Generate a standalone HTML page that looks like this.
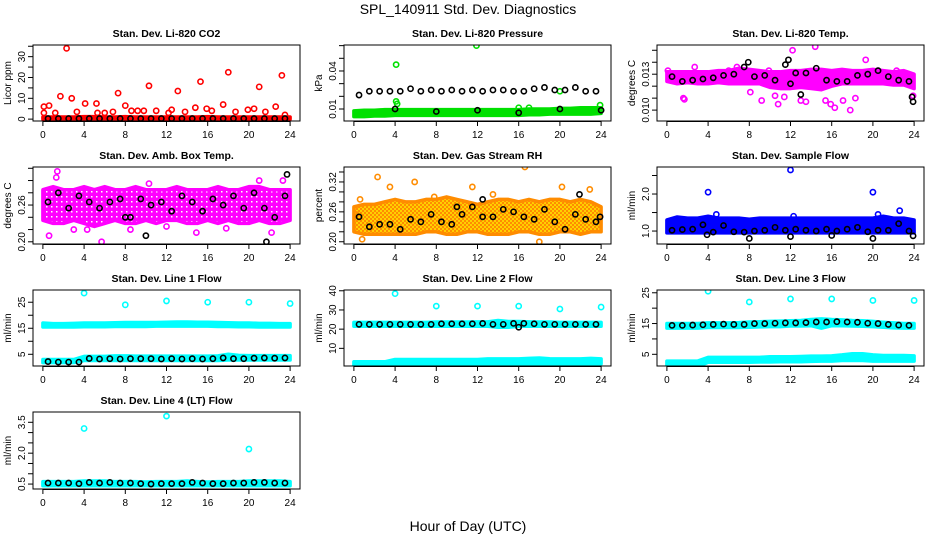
<!DOCTYPE html>
<html><head><meta charset="utf-8">
<style>
html,body{margin:0;padding:0;background:#fff;}
svg{display:block;font-family:"Liberation Sans",sans-serif;}
</style></head>
<body>
<svg id="chart" width="936" height="540" viewBox="0 0 936 540">
<defs>
<pattern id="pat-rh" width="4" height="4" patternUnits="userSpaceOnUse"><rect width="4" height="4" fill="#ffd000"/><rect width="2" height="2" fill="#ff8c00"/><rect x="2" y="2" width="2" height="2" fill="#ff8c00"/></pattern>
<pattern id="pat-mag" width="5" height="5" patternUnits="userSpaceOnUse"><rect width="5" height="5" fill="#ff00ff"/><rect x="1" y="1" width="1.5" height="1.5" fill="#fff"/></pattern>
</defs>
<text x="468" y="14" text-anchor="middle" font-size="14">SPL_140911  Std. Dev. Diagnostics</text>
<text x="468" y="531" text-anchor="middle" font-size="14">Hour of Day (UTC)</text>
</svg>
<script>
// ---- shared data ----
const bandHours = [0,1,2,3,4,5,6,7,8,9,10,11,12,13,14,15,16,17,18,19,20,21,22,23,24];
const blackHours = [0.5,1.5,2.5,3.5,4.5,5.5,6.5,7.5,8.5,9.5,10.5,11.5,12.5,13.5,14.5,15.5,16.5,17.5,18.5,19.5,20.5,21.5,22.5,23.5];
const xTicks = [0,4,8,12,16,20,24];

// CO2
const co2Lo = [0,0,0,0,0,0,0,0,0,0,0,0,0,0,0,0,0,0,0,0,0,0,0,0,0];
const co2Hi = [1,1,1,1,1.2,1.2,1,1,1.2,1,1,1,1,1,1,1,1.2,1,1,1,1,1,1,1,1];
const co2OutH = [0.1,0.6,0.1,1.2,1.7,2.3,2.8,3.3,4.1,5.2,5.3,6,6.8,7.3,8,8.6,9.2,9.8,10.3,11,12.2,12.5,13.1,13.8,14.8,15.3,15.9,16.4,17.5,18,18.7,19.9,20.5,21,21.6,22.6,23.2,23.5];
const co2OutV = [6,6.5,3,3,11,34,10,3.5,7.5,7.5,3,3,3.5,12.5,6.5,4,4,4,16,4,3,4.5,13.5,3.5,5.5,18,5,4,7,22.5,3.5,4.5,5,15.5,3.5,6,21,2];
const co2Black = [0.3,0.3,0.3,0.3,0.3,0.3,0.3,0.3,0.3,0.3,0.3,0.3,0.3,0.3,0.3,0.3,0.3,0.3,0.3,0.3,0.3,0.3,0.3,0.3];
const co2ExH = [], co2ExV = [];

// Pressure
const presLo = [0.004,0.004,0.0045,0.0045,0.005,0.005,0.005,0.005,0.005,0.005,0.005,0.005,0.005,0.005,0.005,0.005,0.005,0.0055,0.0055,0.006,0.006,0.006,0.006,0.006,0.0065];
const presHi = [0.0085,0.009,0.009,0.0095,0.0095,0.0095,0.0095,0.0095,0.0095,0.0095,0.0095,0.0095,0.0095,0.0095,0.0095,0.0095,0.0095,0.01,0.01,0.01,0.0105,0.0105,0.011,0.011,0.011];
const presOutH = [4.1,4.1,4.2,11.9,20,23.9,16,17];
const presOutV = [0.045,0.016,0.014,0.060,0.024,0.013,0.011,0.011];
const presBlack = [0.021,0.024,0.024,0.024,0.024,0.026,0.024,0.025,0.024,0.025,0.024,0.025,0.024,0.025,0.025,0.024,0.024,0.026,0.027,0.025,0.025,0.027,0.024,0.024];
const presExH = [4,8,12,16,20,24];
const presExV = [0.010,0.008,0.009,0.007,0.010,0.009];

// Li-820 temp
const tempLo = [0.0124,0.0122,0.0123,0.0122,0.0122,0.0123,0.0122,0.0122,0.0122,0.0122,0.0119,0.0118,0.0118,0.0119,0.0118,0.0117,0.0120,0.0122,0.0122,0.0122,0.0122,0.0122,0.0121,0.0121,0.0118];
const tempHi = [0.0132,0.0132,0.0132,0.0132,0.0132,0.0133,0.0133,0.0135,0.0134,0.0133,0.0132,0.0132,0.0133,0.0133,0.0134,0.0134,0.0133,0.0134,0.0133,0.0133,0.0134,0.0133,0.0132,0.0133,0.0130];
const tempOutH = [0.1,1.6,1.7,2.7,6.0,6.8,8.1,9.2,9.9,10.5,10.8,11.4,12.2,13.0,13.5,14.4,15.4,15.9,16.3,17.1,17.8,18.3,19.3,20.5,22.3,23.9];
const tempOutV = [0.0133,0.0110,0.0109,0.0136,0.0133,0.0136,0.0115,0.0108,0.0133,0.0112,0.0105,0.0111,0.0150,0.0108,0.0107,0.0153,0.0108,0.0105,0.0102,0.0108,0.0100,0.0110,0.0142,0.0133,0.0133,0.0112];
const tempBlack = [0.0128,0.0124,0.0125,0.0126,0.0127,0.0129,0.0130,0.0136,0.0128,0.0129,0.0125,0.0138,0.0131,0.0131,0.0135,0.0125,0.0124,0.0124,0.0129,0.0130,0.0133,0.0128,0.0125,0.0124];
const tempExH = [7.9,11.8,12,13,23.9,23.8];
const tempExV = [0.0140,0.0142,0.0122,0.0113,0.0107,0.0111];

// Amb box temp
const ambLo = [0.235,0.23,0.23,0.235,0.23,0.225,0.23,0.235,0.23,0.23,0.235,0.23,0.235,0.235,0.23,0.23,0.235,0.23,0.235,0.23,0.23,0.235,0.23,0.23,0.235];
const ambHi = [0.285,0.29,0.285,0.285,0.29,0.285,0.29,0.285,0.285,0.29,0.285,0.285,0.285,0.29,0.285,0.285,0.285,0.29,0.285,0.285,0.29,0.29,0.285,0.285,0.285];
const ambOutH = [1.3,1.4,0.6,5.7,21,23.3,10.3,12,14.9,22.2,4.3,3,8.5,17.8];
const ambOutV = [0.305,0.315,0.21,0.20,0.30,0.30,0.295,0.225,0.215,0.215,0.22,0.22,0.22,0.222];
const ambBlack = [0.265,0.28,0.255,0.275,0.265,0.255,0.265,0.27,0.24,0.27,0.26,0.265,0.25,0.275,0.265,0.25,0.27,0.26,0.275,0.255,0.28,0.255,0.24,0.275];
const ambExH = [10,21.7,23.7,8];
const ambExV = [0.21,0.20,0.31,0.24];

// Gas stream RH
const rhLo = [0.22,0.215,0.215,0.215,0.215,0.215,0.215,0.22,0.22,0.215,0.215,0.22,0.22,0.215,0.215,0.215,0.22,0.22,0.215,0.215,0.22,0.22,0.215,0.22,0.22];
const rhHi = [0.27,0.275,0.275,0.28,0.285,0.28,0.28,0.285,0.285,0.29,0.285,0.28,0.275,0.28,0.285,0.285,0.28,0.285,0.28,0.285,0.285,0.28,0.285,0.28,0.27];
const rhOutH = [2.3,3.5,0.2,0.6,0.8,16.6,11.5,20.2,18,13.5,22.9,5.9,7.8];
const rhOutV = [0.33,0.31,0.255,0.285,0.205,0.35,0.31,0.31,0.20,0.295,0.305,0.32,0.29];
const rhBlack = [0.25,0.23,0.235,0.235,0.225,0.245,0.24,0.255,0.24,0.235,0.255,0.27,0.25,0.25,0.265,0.26,0.25,0.245,0.265,0.24,0.225,0.255,0.245,0.24];
const rhExH = [10,12.5,21.9,23.9];
const rhExV = [0.27,0.285,0.295,0.25];

// Sample flow
const sfLo = [0.95,0.95,0.95,0.95,0.95,0.95,0.95,0.95,0.95,0.95,0.95,0.95,0.95,0.95,0.95,0.95,0.95,0.95,0.95,0.95,0.95,0.95,0.95,0.95,0.95];
const sfHi = [1.3,1.38,1.35,1.35,1.4,1.35,1.35,1.35,1.32,1.35,1.35,1.35,1.35,1.35,1.35,1.35,1.35,1.35,1.35,1.35,1.35,1.4,1.35,1.35,1.3];
const sfOutH = [4,12,20,22.6,4.8,12.3,20.5];
const sfOutV = [2.05,2.65,2.05,1.55,1.45,1.4,1.45];
const sfBlack = [1.02,1.04,1.05,1.17,0.97,1.15,0.98,0.97,1.0,1.02,1.1,1.02,1.05,1.02,1.0,1.05,1.0,1.05,1.1,0.98,1.02,1.02,1.2,1.0];
const sfExH = [3.9,8,12,16,20,23.9];
const sfExV = [0.9,0.8,0.85,0.88,0.8,0.87];

// Line 1 flow
const l1LoA = [15.5,15.5,15.5,15.5,15.6,15.6,15.6,15.7,15.7,15.7,15.7,15.8,15.8,15.8,15.8,15.8,15.8,15.7,15.7,15.6,15.6,15.5,15.5,15.5,15.5];
const l1HiA = [17,16.8,16.8,16.9,17,17,17,17.1,17.2,17.2,17.2,17.2,17.3,17.4,17.4,17.3,17.3,17.2,17.1,17,17,16.9,16.9,16.8,16.8];
const l1LoB = [1.8,1.8,1.8,1.8,2.6,2.6,2.6,2.6,2.6,2.6,2.6,2.6,2.6,2.6,2.6,2.6,2.6,2.6,2.8,2.8,2.8,2.8,2.8,2.8,2.8];
const l1HiB = [3,3,3,3,4.2,4.2,4.2,4.4,4.4,4.3,4.3,4.3,4.3,4.3,4.3,4.3,4.3,4.4,5,4.6,4.5,4.5,4.5,4.5,4.5];
const l1OutH = [4,8,12,16,20,24];
const l1OutV = [28.5,24,25.5,25,25,24.5];
const l1Black = [2.2,2,2,2,3.4,3.2,3.3,3.2,3.3,3.3,3.3,3.2,3.3,3.2,3.3,3.2,3.3,3.6,3.3,3.3,3.5,3.6,3.5,3.6];

// Line 2 flow
const l2LoA = [21.5,21.5,21.5,21.5,21.5,21.5,21.5,21.5,21.5,21.5,21.5,21.5,21.5,21.5,21,21,21.5,21.5,21.5,21.5,21.5,21.5,21.5,21.5,21.5];
const l2HiA = [23.5,23.5,23.5,23.5,23.5,23.5,23.5,23.5,23.7,23.7,23.7,23.7,23.8,23.8,24.5,24,24,23.8,23.7,23.7,23.5,23.5,23.5,23.5,23.5];
const l2LoB = [1,1,1,1,1.8,1.8,1.8,1.8,1.8,1.8,1.8,1.8,1.8,1.8,1.8,1.8,2,2,2,2,2,2,2,2,2];
const l2HiB = [3,3,3,3,4.2,4.2,4.2,4.2,4.2,4.2,4.2,4.2,4.2,4.5,4.5,4.5,4.5,4.8,5,4.6,4.5,4.5,4.5,4.8,4.5];
const l2OutH = [4,8,12,16,20,24];
const l2OutV = [38.5,32,32,32,30.5,31.5];
const l2Black = [22.5,22.5,22.5,22.5,22.5,22.5,22.5,22.5,22.8,22.8,22.8,22.8,23,22.5,22.5,23,23,22.8,22.5,22.5,22.5,22.5,22.5,22.5];

// Line 3 flow
const l3LoA = [13.5,13.5,13.5,13.5,13.7,13.7,13.7,13.7,13.8,13.9,14,14,14.2,14.2,14.3,13.5,14.3,14.3,14.2,14.1,14,13.8,13.6,13.5,13.5];
const l3HiA = [15,15,15,15,15.2,15.2,15.2,15.3,15.5,15.6,15.7,15.8,15.9,16,16.3,16.5,16.3,16.2,16,15.9,15.7,15.4,15.2,15,15];
const l3LoB = [1,1,1,1,2.4,2.4,2.4,2.4,2.4,2.5,2.5,2.6,2.6,2.6,2.7,2.8,2.8,3,3,3,2.8,2.8,2.8,2.8,2.8];
const l3HiB = [2.8,2.8,2.8,2.8,4,4,4,4,4,4,4.2,4.2,4.2,4.3,4.4,4.4,4.5,4.8,5.2,5.2,4.8,4.6,4.6,4.6,4.5];
const l3OutH = [4,8,12,16,20,24];
const l3OutV = [25.5,22,23,23,22.5,22.5];
const l3Black = [14.4,14.4,14.5,14.6,14.7,14.8,14.7,14.7,15,15,15.1,15.2,15.2,15.3,15.5,15.5,15.6,15.5,15.4,15.1,15,14.7,14.5,14.4];

// Line 4 flow
const l4Lo = [0.42,0.42,0.42,0.42,0.42,0.42,0.42,0.42,0.42,0.42,0.42,0.42,0.42,0.42,0.42,0.42,0.42,0.42,0.42,0.42,0.42,0.42,0.42,0.42,0.42];
const l4Hi = [0.62,0.62,0.62,0.62,0.65,0.65,0.65,0.62,0.62,0.62,0.6,0.62,0.62,0.62,0.65,0.62,0.6,0.62,0.62,0.62,0.65,0.65,0.65,0.65,0.62];
const l4OutH = [4,12,20];
const l4OutV = [3.2,3.8,2.2];
const l4Black = [0.55,0.55,0.55,0.52,0.58,0.55,0.58,0.55,0.55,0.52,0.5,0.52,0.52,0.52,0.58,0.55,0.52,0.52,0.55,0.55,0.58,0.58,0.55,0.55];

const SVGNS = "http://www.w3.org/2000/svg";
const svg = document.getElementById('chart');
function mk(tag, attrs, parent){
  const e = document.createElementNS(SVGNS, tag);
  for (const k in attrs) e.setAttribute(k, attrs[k]);
  (parent||svg).appendChild(e);
  return e;
}

function drawPanel(p){
  const g = mk('g', {});
  
  
  const w = p.x1 - p.x0, h = p.y1 - p.y0;
  const xs = hr => p.x0 + (hr + 0.96) / 25.92 * w;
  const ys = v => p.y1 - (v - p.ymin) / (p.ymax - p.ymin) * h;
  const clip = mk('clipPath', {id: 'clip-' + p.name}, g);
  mk('rect', {x: p.x0, y: p.y0, width: w, height: h}, clip);
  const plot = mk('g', {'clip-path': 'url(#clip-' + p.name + ')'}, g);
  p.bands.forEach((b, bi) => {
    let pts = [];
    bandHours.forEach((hr, i) => pts.push(xs(hr) + ',' + ys(b.hi[i])));
    for (let i = bandHours.length - 1; i >= 0; i--) pts.push(xs(bandHours[i]) + ',' + ys(b.lo[i]));
    const poly = mk('polygon', {points: pts.join(' '), fill: p.fill || p.color, stroke: p.color, 'stroke-width': 3.5, 'stroke-linejoin': 'round'}, plot);
    
    
  });
  p.outH.forEach((hr, i) => {
    const c = mk('circle', {cx: xs(hr), cy: ys(p.outV[i]), r: 2.6, fill: 'none', stroke: p.color, 'stroke-width': 1.6}, plot);
    
    
  });
  blackHours.forEach((hr, i) => {
    const c = mk('circle', {cx: xs(hr), cy: ys(p.black[i]), r: 2.6, fill: 'none', stroke: '#000', 'stroke-width': 1.6}, plot);
    
    
  });
  p.exH.forEach((hr, i) => {
    const c = mk('circle', {cx: xs(hr), cy: ys(p.exV[i]), r: 2.6, fill: 'none', stroke: '#000', 'stroke-width': 1.6}, plot);
    
    
  });
  const box = mk('rect', {x: p.x0, y: p.y0, width: w, height: h, fill: 'none', stroke: '#000', 'stroke-width': 1}, g);
  
  
  const xa = mk('g', {}, g);
  
  
  mk('line', {x1: xs(0), x2: xs(24), y1: p.y1 + 0.5, y2: p.y1 + 0.5, stroke: '#000'}, xa);
  xTicks.forEach(t => {
    mk('line', {x1: xs(t), x2: xs(t), y1: p.y1, y2: p.y1 + 5, stroke: '#000'}, xa);
    const tx = mk('text', {x: xs(t), y: p.y1 + 17, 'text-anchor': 'middle', 'font-size': 10}, xa);
    tx.textContent = t;
    
    
  });
  const ya = mk('g', {}, g);
  
  
  p.yticks.forEach((t, i) => {
    mk('line', {x1: p.x0 - 5, x2: p.x0, y1: ys(t), y2: ys(t), stroke: '#000'}, ya);
    if (p.ylabels[i] !== '') {
      const tx = mk('text', {x: 0, y: 0, 'text-anchor': 'middle', 'font-size': 10, transform: 'translate(' + (p.x0 - 8) + ',' + ys(t) + ') rotate(-90)'}, ya);
      tx.textContent = p.ylabels[i];
      
      
    }
  });
  const yl = mk('text', {x: 0, y: 0, 'text-anchor': 'middle', 'font-size': 10, transform: 'translate(' + (p.x0 - 22) + ',' + (p.y0 + h / 2) + ') rotate(-90)'}, ya);
  yl.textContent = p.ylab;
  
  
  const tt = mk('text', {x: (p.x0 + p.x1) / 2, y: p.y0 - 8, 'text-anchor': 'middle', 'font-size': 10.5, 'font-weight': 'bold'}, g);
  tt.textContent = p.title;
  
  
}

const C1 = [33, 300], C2 = [344, 611], C3 = [657, 924];
const R = [[45, 121], [167, 244], [290, 366], [412, 489]];

drawPanel({name:'panel-co2', title:'Stan. Dev. Li-820 CO2', ylab:'Licor ppm', color:'#ff0000',
  x0:C1[0], x1:C1[1], y0:R[0][0], y1:R[0][1], ymin:-0.9, ymax:35.6,
  yticks:[0,5,10,15,20,25,30,35], ylabels:['0','','10','','20','','30',''],
  bands:[{lo:co2Lo, hi:co2Hi}], outH:co2OutH, outV:co2OutV, black:co2Black, exH:co2ExH, exV:co2ExV});
drawPanel({name:'panel-pressure', title:'Stan. Dev. Li-820 Pressure', ylab:'kPa', color:'#00e000',
  x0:C2[0], x1:C2[1], y0:R[0][0], y1:R[0][1], ymin:0.00053, ymax:0.0605,
  yticks:[0.01,0.02,0.03,0.04,0.05,0.06], ylabels:['0.01','','','0.04','',''],
  bands:[{lo:presLo, hi:presHi}], outH:presOutH, outV:presOutV, black:presBlack, exH:presExH, exV:presExV});
drawPanel({name:'panel-li820-temp', title:'Stan. Dev. Li-820 Temp.', ylab:'degrees C', color:'#ff00ff',
  x0:C3[0], x1:C3[1], y0:R[0][0], y1:R[0][1], ymin:0.00909, ymax:0.01544,
  yticks:[0.010,0.011,0.012,0.013,0.014,0.015], ylabels:['0.010','','','0.013','',''],
  bands:[{lo:tempLo, hi:tempHi}], outH:tempOutH, outV:tempOutV, black:tempBlack, exH:tempExH, exV:tempExV});
drawPanel({name:'panel-amb-box-temp', title:'Stan. Dev. Amb. Box Temp.', ylab:'degrees C', color:'#ff00ff', fill:'url(#pat-mag)',
  x0:C1[0], x1:C1[1], y0:R[1][0], y1:R[1][1], ymin:0.1964, ymax:0.3221,
  yticks:[0.20,0.22,0.24,0.26,0.28,0.30,0.32], ylabels:['0.20','','','0.26','','',''],
  bands:[{lo:ambLo, hi:ambHi}], outH:ambOutH, outV:ambOutV, black:ambBlack, exH:ambExH, exV:ambExV});
drawPanel({name:'panel-gas-stream-rh', title:'Stan. Dev. Gas Stream RH', ylab:'percent', color:'#ff8c00', fill:'url(#pat-rh)',
  x0:C2[0], x1:C2[1], y0:R[1][0], y1:R[1][1], ymin:0.1955, ymax:0.35,
  yticks:[0.20,0.22,0.24,0.26,0.28,0.30,0.32,0.34], ylabels:['0.20','','','0.26','','','0.32',''],
  bands:[{lo:rhLo, hi:rhHi}], outH:rhOutH, outV:rhOutV, black:rhBlack, exH:rhExH, exV:rhExV});
drawPanel({name:'panel-sample-flow', title:'Stan. Dev. Sample Flow', ylab:'ml/min', color:'#0000ff',
  x0:C3[0], x1:C3[1], y0:R[1][0], y1:R[1][1], ymin:0.65, ymax:2.73,
  yticks:[1.0,1.5,2.0,2.5], ylabels:['1.0','','2.0',''],
  bands:[{lo:sfLo, hi:sfHi}], outH:sfOutH, outV:sfOutV, black:sfBlack, exH:sfExH, exV:sfExV});
drawPanel({name:'panel-line1-flow', title:'Stan. Dev. Line 1 Flow', ylab:'ml/min', color:'#00ffff',
  x0:C1[0], x1:C1[1], y0:R[2][0], y1:R[2][1], ymin:0.5, ymax:29.7,
  yticks:[5,10,15,20,25], ylabels:['5','','15','','25'],
  bands:[{lo:l1LoA, hi:l1HiA},{lo:l1LoB, hi:l1HiB}], outH:l1OutH, outV:l1OutV, black:l1Black, exH:[], exV:[]});
drawPanel({name:'panel-line2-flow', title:'Stan. Dev. Line 2 Flow', ylab:'ml/min', color:'#00ffff',
  x0:C2[0], x1:C2[1], y0:R[2][0], y1:R[2][1], ymin:0.8, ymax:40.4,
  yticks:[10,20,30,40], ylabels:['10','20','30','40'],
  bands:[{lo:l2LoA, hi:l2HiA},{lo:l2LoB, hi:l2HiB}], outH:l2OutH, outV:l2OutV, black:l2Black, exH:[16], exV:[21]});
drawPanel({name:'panel-line3-flow', title:'Stan. Dev. Line 3 Flow', ylab:'ml/min', color:'#00ffff',
  x0:C3[0], x1:C3[1], y0:R[2][0], y1:R[2][1], ymin:1.2, ymax:25.9,
  yticks:[5,10,15,20,25], ylabels:['5','','15','','25'],
  bands:[{lo:l3LoA, hi:l3HiA},{lo:l3LoB, hi:l3HiB}], outH:l3OutH, outV:l3OutV, black:l3Black, exH:[], exV:[]});
drawPanel({name:'panel-line4-flow', title:'Stan. Dev. Line 4 (LT) Flow', ylab:'ml/min', color:'#00ffff',
  x0:C1[0], x1:C1[1], y0:R[3][0], y1:R[3][1], ymin:0.26, ymax:4.0,
  yticks:[0.5,1.0,1.5,2.0,2.5,3.0,3.5], ylabels:['0.5','','','2.0','','','3.5'],
  bands:[{lo:l4Lo, hi:l4Hi}], outH:l4OutH, outV:l4OutV, black:l4Black, exH:[], exV:[]});
</script>
</body></html>
